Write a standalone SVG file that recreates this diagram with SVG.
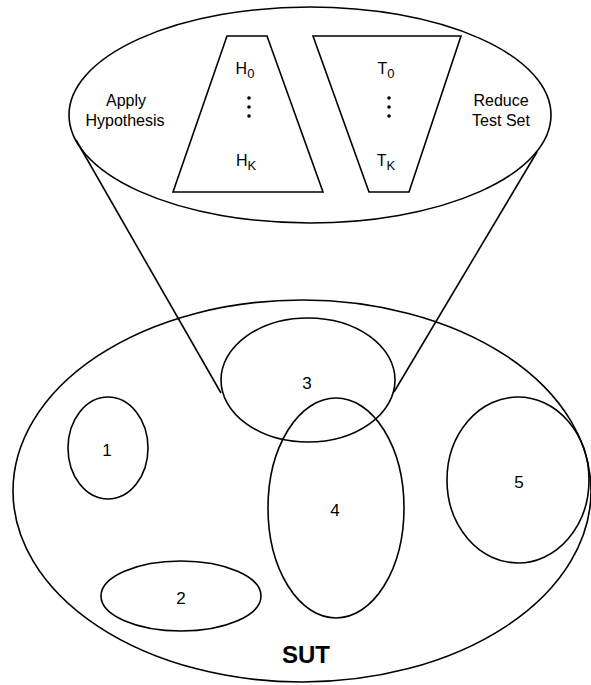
<svg xmlns="http://www.w3.org/2000/svg" width="591" height="685" viewBox="0 0 591 685">
<style>
.s{fill:none;stroke:#000;stroke-width:1.6}
.t{font-family:"Liberation Sans",Arial,sans-serif;fill:#000;text-anchor:middle}
.l{font-size:16px}
.n{font-size:17px}
.sub{font-size:13px}
</style>
<rect width="591" height="685" fill="#fff"/>
<g id="connectors">
<line class="s" x1="76" y1="140" x2="221" y2="393"/>
<line class="s" x1="537" y1="152" x2="394" y2="392"/>
</g>
<g id="zoom">
<ellipse class="s" cx="310" cy="115" rx="241" ry="108" fill="#fff"/>
<text class="t l" x="126" y="106">Apply</text>
<text class="t l" x="125" y="126">Hypothesis</text>
<text class="t l" x="501" y="106">Reduce</text>
<text class="t l" x="501" y="126">Test Set</text>
</g>
<g id="hyp">
<polygon class="s" points="227,36 267,36 323,192 173,192"/>
<text class="t l" x="245" y="74">H<tspan class="sub" dy="4">0</tspan></text>
<circle cx="249" cy="98" r="1.8"/><circle cx="249" cy="107" r="1.8"/><circle cx="249" cy="116" r="1.8"/>
<text class="t l" x="246" y="166">H<tspan class="sub" dy="4">K</tspan></text>
</g>
<g id="tests">
<polygon class="s" points="313,36 461,36 409,192 369,192"/>
<text class="t l" x="386" y="74">T<tspan class="sub" dy="4">0</tspan></text>
<circle cx="389" cy="98" r="1.8"/><circle cx="389" cy="107" r="1.8"/><circle cx="389" cy="116" r="1.8"/>
<text class="t l" x="386" y="166">T<tspan class="sub" dy="4">K</tspan></text>
</g>
<g id="sut">
<ellipse class="s" cx="302" cy="491" rx="289" ry="191"/>
<text class="t" x="306" y="663" font-size="24" font-weight="bold">SUT</text>
</g>
<g id="n1"><ellipse class="s" cx="108" cy="448" rx="40" ry="51"/><text class="t n" x="107" y="456">1</text></g>
<g id="n2"><ellipse class="s" cx="181" cy="596" rx="80" ry="35"/><text class="t n" x="181" y="604">2</text></g>
<g id="n3"><ellipse class="s" cx="308" cy="380" rx="87" ry="62"/><text class="t n" x="307" y="389">3</text></g>
<g id="n4"><ellipse class="s" cx="336" cy="508" rx="68" ry="110"/><text class="t n" x="335" y="516">4</text></g>
<g id="n5"><ellipse class="s" cx="518" cy="480" rx="71" ry="83"/><text class="t n" x="519" y="488">5</text></g>
</svg>
